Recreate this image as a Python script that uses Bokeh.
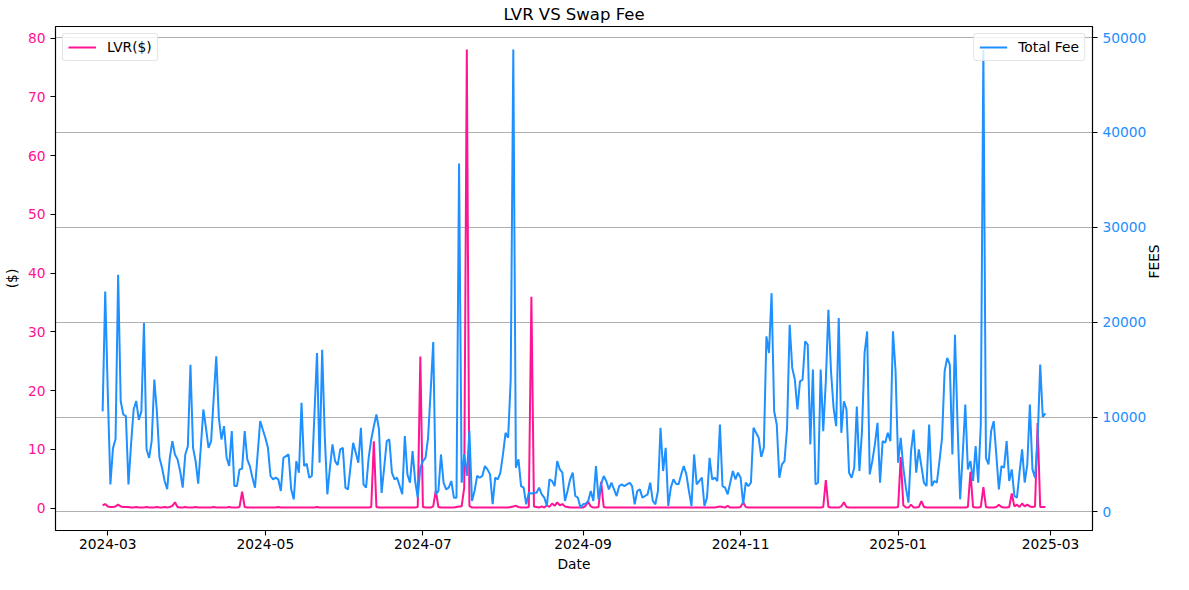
import math
import pandas as pd
from bokeh.plotting import figure
from bokeh.models import (Range1d, LinearAxis, FixedTicker, Grid, Legend, LegendItem,
                          DatetimeTickFormatter, BasicTickFormatter, ColumnDataSource)
from bokeh.embed import file_html
from bokeh.resources import INLINE

# ---------------- data ----------------
start_date = "2024-02-28"

lvr_usd = [
    0.5, 0.7, 0.3, 0.2, 0.2, 0.3, 0.6, 0.3, 0.2, 0.2,
    0.2, 0.1, 0.1, 0.2, 0.1, 0.1, 0.1, 0.2, 0.1, 0.1,
    0.1, 0.2, 0.1, 0.1, 0.2, 0.1, 0.2, 0.4, 1.0, 0.2,
    0.1, 0.1, 0.2, 0.1, 0.1, 0.1, 0.2, 0.1, 0.1, 0.1,
    0.1, 0.1, 0.1, 0.2, 0.1, 0.1, 0.1, 0.1, 0.1, 0.2,
    0.1, 0.1, 0.1, 0.2, 2.8, 0.2, 0.1, 0.1, 0.1, 0.1,
    0.1, 0.1, 0.1, 0.1, 0.1, 0.1, 0.1, 0.1, 0.2, 0.1,
    0.1, 0.1, 0.1, 0.1, 0.1, 0.1, 0.1, 0.1, 0.1, 0.1,
    0.1, 0.1, 0.1, 0.2, 0.1, 0.1, 0.1, 0.1, 0.1, 0.1,
    0.1, 0.1, 0.1, 0.1, 0.1, 0.1, 0.1, 0.1, 0.1, 0.1,
    0.1, 0.1, 0.1, 0.1, 0.2, 11.4, 0.2, 0.1, 0.1, 0.1,
    0.1, 0.1, 0.1, 0.1, 0.1, 0.1, 0.1, 0.1, 0.1, 0.1,
    0.1, 0.1, 0.2, 25.8, 0.2, 0.1, 0.1, 0.1, 0.3, 3.0,
    0.2, 0.1, 0.1, 0.1, 0.1, 0.1, 0.1, 0.2, 0.3, 0.3,
    3.5, 78.1, 0.4, 0.1, 0.1, 0.1, 0.1, 0.1, 0.1, 0.1,
    0.1, 0.1, 0.1, 0.1, 0.1, 0.1, 0.1, 0.1, 0.2, 0.3,
    0.4, 0.2, 0.1, 0.1, 0.1, 0.2, 36.0, 0.3, 0.2, 0.1,
    0.3, 0.1, 0.5, 0.2, 0.8, 0.4, 1.0, 0.5, 0.7, 0.3,
    0.2, 0.1, 0.1, 0.1, 0.1, 0.1, 0.1, 0.4, 1.1, 0.3,
    0.1, 0.1, 0.2, 4.5, 0.2, 0.1, 0.1, 0.1, 0.1, 0.1,
    0.1, 0.1, 0.1, 0.1, 0.1, 0.1, 0.1, 0.1, 0.1, 0.1,
    0.1, 0.1, 0.1, 0.1, 0.1, 0.1, 0.1, 0.1, 0.1, 0.1,
    0.1, 0.1, 0.1, 0.1, 0.1, 0.1, 0.1, 0.1, 0.1, 0.1,
    0.1, 0.1, 0.1, 0.1, 0.1, 0.1, 0.1, 0.1, 0.2, 0.3,
    0.2, 0.1, 0.4, 0.1, 0.1, 0.1, 0.1, 0.2, 1.0, 0.2,
    0.1, 0.1, 0.1, 0.1, 0.1, 0.1, 0.1, 0.1, 0.1, 0.1,
    0.1, 0.1, 0.1, 0.1, 0.1, 0.1, 0.1, 0.1, 0.1, 0.1,
    0.1, 0.1, 0.1, 0.1, 0.1, 0.1, 0.1, 0.1, 0.1, 0.2,
    4.8, 0.2, 0.1, 0.1, 0.1, 0.1, 0.3, 1.0, 0.2, 0.1,
    0.1, 0.1, 0.1, 0.1, 0.1, 0.1, 0.1, 0.1, 0.1, 0.1,
    0.1, 0.1, 0.1, 0.1, 0.1, 0.1, 0.1, 0.1, 0.2, 8.7,
    0.5, 0.1, 0.1, 0.6, 0.1, 0.1, 0.2, 1.2, 0.2, 0.1,
    0.1, 0.1, 0.1, 0.1, 0.1, 0.1, 0.1, 0.1, 0.1, 0.1,
    0.1, 0.1, 0.1, 0.1, 0.1, 0.2, 6.2, 0.2, 0.1, 0.1,
    0.2, 3.6, 0.2, 0.1, 0.1, 0.1, 0.2, 0.6, 0.2, 0.1,
    0.1, 0.2, 2.5, 0.3, 0.6, 0.2, 0.8, 0.3, 0.6, 0.3,
    0.2, 0.3, 14.5, 0.2, 0.2, 0.2,
]

total_fee = [
    10600, 23240, 12500, 2900, 6700, 7700, 24990, 11670, 10270, 10100,
    2900, 7100, 10800, 11700, 9700, 10600, 19900, 6600, 5700, 7500,
    13950, 10600, 5700, 4650, 3260, 2400, 5700, 7470, 6060, 5540,
    4300, 2560, 6060, 6940, 15500, 6760, 5360, 2980, 6760, 10800,
    8870, 6760, 7470, 12000, 16400, 9920, 7640, 9040, 5710, 4840,
    8520, 2730, 2730, 4490, 4560, 8520, 5540, 4840, 3610, 2560,
    6060, 9570, 8690, 7820, 6760, 3790, 3440, 3610, 3440, 2210,
    5710, 5890, 6060, 2380, 1330, 5360, 4140, 11500, 4840, 5080,
    3610, 3790, 10270, 16750, 5190, 17100, 7990, 1860, 4660, 7120,
    5360, 4940, 6590, 6760, 2560, 2380, 4840, 7290, 6240, 5190,
    8870, 2910, 2560, 5710, 7640, 9040, 10270, 8690, 2000, 4660,
    7470, 7640, 4140, 3440, 3610, 2730, 1860, 7990, 3960, 3080,
    6410, 3260, 1510, 4660, 5360, 5710, 7820, 12720, 17910, 1860,
    2210, 6060, 3080, 2380, 2560, 3260, 1510, 1510, 36730, 3080,
    6060, 3790, 8520, 1160, 2210, 3800, 3610, 3790, 4840, 4490,
    3960, 810, 3610, 3440, 4140, 6060, 8340, 7820, 14000, 48750,
    4660, 5540, 2730, 2560, 810, 2030, 1930, 2030, 2030, 2560,
    1860, 1510, 630, 3440, 3260, 2730, 5360, 4490, 4140, 1160,
    2210, 3440, 4140, 1680, 1510, 460, 810, 880, 1160, 2210,
    1160, 4840, 1330, 2910, 3790, 3260, 2380, 3080, 2380, 1680,
    2730, 2910, 2730, 2910, 3080, 2730, 810, 2210, 2380, 1510,
    1680, 1860, 3080, 1160, 810, 2210, 8870, 4310, 6760, 630,
    2560, 3440, 2980, 2910, 3960, 4840, 3960, 2210, 630, 6060,
    2910, 3260, 3610, 630, 1510, 5710, 3440, 3610, 3260, 9220,
    2730, 2560, 1860, 3080, 4310, 3440, 4140, 3610, 810, 3080,
    2730, 3080, 8870, 8340, 7820, 5800, 6760, 18510, 16750, 23060,
    10620, 9220, 3610, 5010, 5360, 8870, 19730, 15180, 13950, 10800,
    13770, 13950, 17980, 17630, 7120, 15000, 2910, 3080, 15000, 8520,
    13770, 21310, 14830, 10970, 9040, 20430, 8340, 11670, 10800, 4140,
    3610, 4660, 11100, 4310, 8520, 16750, 19030, 3960, 5360, 7120,
    9390, 3080, 7470, 7290, 8340, 7470, 19030, 14830, 5190, 7820,
    4660, 2560, 980, 6410, 8690, 4140, 6590, 4840, 3080, 2730,
    9220, 2730, 3260, 3080, 5360, 7820, 14830, 16230, 15530, 6060,
    18680, 9220, 1330, 6060, 11320, 4490, 5360, 3260, 6940, 3080,
    9220, 48650, 5710, 5010, 8520, 9570, 6060, 2380, 4840, 4660,
    7470, 3260, 4490, 1680, 1510, 4140, 6590, 3080, 5010, 11320,
    4490, 3610, 7470, 15530, 10000, 10400,
]

x_tick_labels = ["2024-03", "2024-05", "2024-07", "2024-09", "2024-11", "2025-01", "2025-03"]
lvr_ticks = [0, 10, 20, 30, 40, 50, 60, 70, 80]
fee_ticks = [0, 10000, 20000, 30000, 40000, 50000]

# ---------------- build ----------------
PINK = "#ff1493"
BLUE = "#1e90ff"
FONT = "DejaVu Sans"
FS = "13.8px"

dates = pd.date_range(start_date, periods=len(total_fee), freq="D")
src = ColumnDataSource(dict(date=dates, lvr=lvr_usd, fee=total_fee))

span = dates[-1] - dates[0]
x_lo = (dates[0] - span * 0.05).to_pydatetime()
x_hi = (dates[-1] + span * 0.05).to_pydatetime()

l_lo, l_hi = min(lvr_usd), max(lvr_usd)
l_pad = (l_hi - l_lo) * 0.05
f_lo, f_hi = min(total_fee), max(total_fee)
f_pad = (f_hi - f_lo) * 0.05

p = figure(width=1173, height=574, x_axis_type="datetime",
           x_range=Range1d(x_lo, x_hi),
           y_range=Range1d(l_lo - l_pad, l_hi + l_pad),
           output_backend="svg", toolbar_location=None,
           title="LVR VS Swap Fee",
           min_border_left=50, min_border_right=74,
           min_border_top=25, min_border_bottom=44)
p.extra_y_ranges = {"fees": Range1d(f_lo - f_pad, f_hi + f_pad)}

p.background_fill_color = "white"
p.border_fill_color = "white"
p.outline_line_color = "black"
p.outline_line_width = 1.1
p.xgrid.visible = False
p.ygrid.visible = False

p.title.align = "center"
p.title.offset = 12
p.title.text_font = FONT
p.title.text_font_size = "16.5px"
p.title.text_font_style = "normal"
p.title.text_color = "black"
p.title.standoff = 5

pink_r = p.line("date", "lvr", source=src, line_color=PINK, line_width=2)

fee_axis = LinearAxis(y_range_name="fees", axis_label="FEES")
p.add_layout(fee_axis, "right")

grid = Grid(dimension=1, ticker=FixedTicker(ticks=fee_ticks), y_range_name="fees",
            grid_line_color="#b0b0b0", grid_line_width=1.1)
p.add_layout(grid)

blue_r = p.line("date", "fee", source=src, line_color=BLUE, line_width=2, y_range_name="fees")

def style_axis(ax, label_color):
    ax.axis_line_color = "black"
    ax.axis_line_width = 1.1
    ax.major_tick_line_color = "black"
    ax.major_tick_line_width = 1.1
    ax.major_tick_out = 5
    ax.major_tick_in = 0
    ax.minor_tick_line_color = None
    ax.major_label_text_font = FONT
    ax.major_label_text_font_size = FS
    ax.major_label_text_color = label_color
    ax.major_label_standoff = 5
    ax.axis_label_text_font = FONT
    ax.axis_label_text_font_size = FS
    ax.axis_label_text_font_style = "normal"
    ax.axis_label_text_color = "black"
    ax.axis_label_standoff = 5

xax = p.xaxis[0]
xax.ticker = FixedTicker(ticks=[pd.Timestamp(t + "-01").value // 10**6 for t in x_tick_labels])
xax.formatter = DatetimeTickFormatter(days="%Y-%m", months="%Y-%m", years="%Y-%m")
xax.axis_label = "Date"
style_axis(xax, "black")
xax.major_label_standoff = 3
xax.axis_label_standoff = 4

lax = p.yaxis[0]
lax.ticker = FixedTicker(ticks=lvr_ticks)
lax.axis_label = "($)"
style_axis(lax, PINK)

fee_axis.ticker = FixedTicker(ticks=fee_ticks)
fee_axis.formatter = BasicTickFormatter(use_scientific=False)
style_axis(fee_axis, BLUE)
fee_axis.axis_label_orientation = math.pi / 2

def make_legend(label, r, loc):
    lg = Legend(items=[LegendItem(label=label, renderers=[r])], location=loc)
    lg.border_line_color = "#cccccc"
    lg.border_line_width = 1
    lg.border_radius = 3
    lg.background_fill_color = "white"
    lg.background_fill_alpha = 0.8
    lg.label_text_font = FONT
    lg.label_text_font_size = FS
    lg.label_text_color = "black"
    lg.glyph_width = 28
    lg.glyph_height = 14
    lg.label_height = 14
    lg.label_standoff = 11
    lg.padding = 5
    lg.margin = 7
    lg.spacing = 0
    return lg

p.add_layout(make_legend("LVR($)", pink_r, "top_left"))
p.add_layout(make_legend("Total Fee", blue_r, "top_right"))

open("out.html", "w").write(file_html(p, INLINE))
